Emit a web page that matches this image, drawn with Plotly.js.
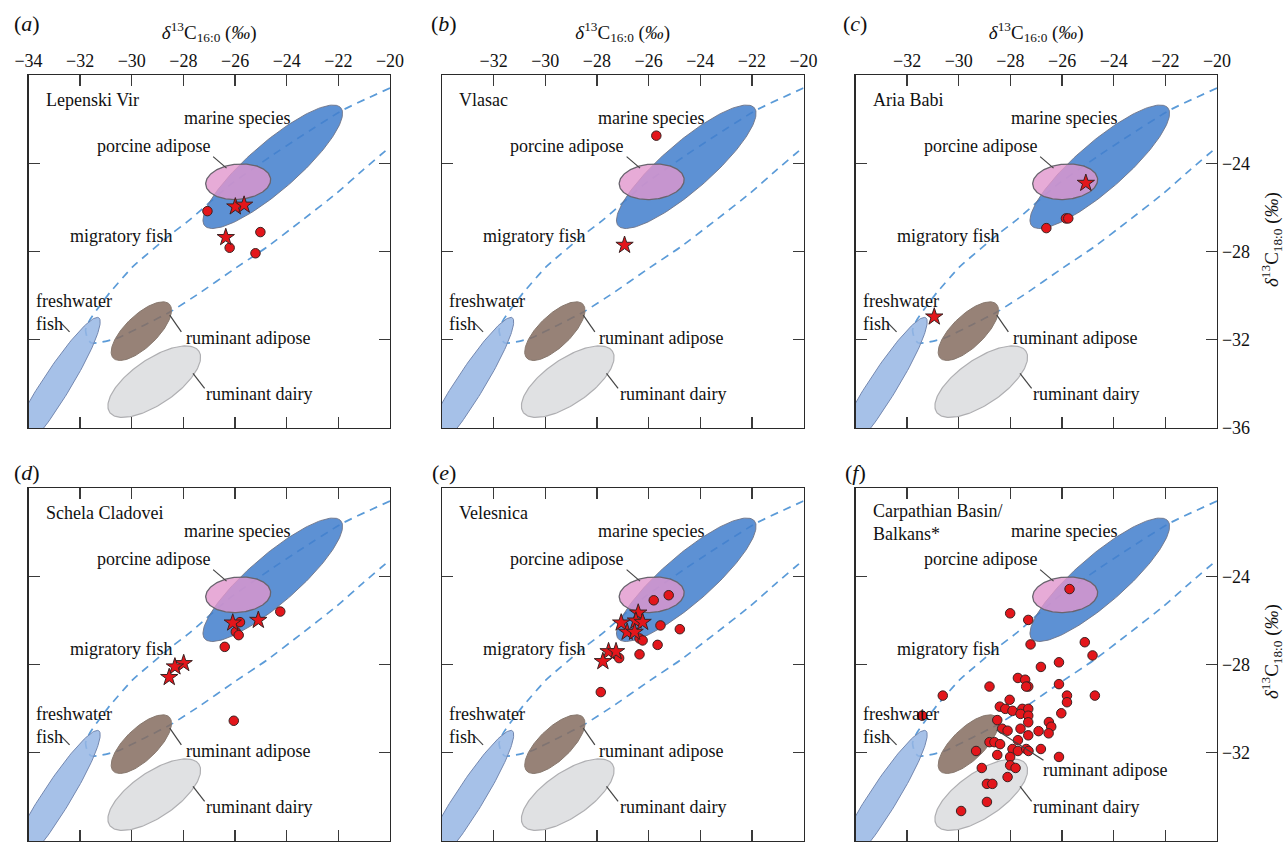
<!DOCTYPE html>
<html><head><meta charset="utf-8">
<script src="https://cdn.plot.ly/plotly-3.0.1.min.js"></script>
<style>html,body{margin:0;padding:0;background:#fff;} #chart{width:1286px;height:845px;}</style>
</head><body><div id="chart"></div>
<script>
// ---------------- data ----------------
const panelLetters = ['a','b','c','d','e','f'];
const siteNames = ['Lepenski Vir','Vlasac','Aria Babi','Schela Cladovei','Velesnica','Carpathian Basin/<br>Balkans*'];
const xTickVals = [-34,-32,-30,-28,-26,-24,-22,-20];
const yTickVals = [-36,-32,-28,-24];

// reference ellipses: [cx, cy, semi-major dx, dy, semi-minor dx, dy] in permil
const ellMarine  = [-24.54, -24.16, 2.634, 2.676, 0.609, -0.820];
const ellPorcine = [-25.88, -24.84, 1.256, 0.127, 0.058, -0.798];
const ellFresh   = [-33.11, -34.37, 1.830, 3.368, 0.458, -0.340];
const ellRumAd   = [-29.63, -31.61, 1.086, 1.224, 0.430, -0.521];
const ellDairy   = [-29.13, -33.90, 1.726, 1.387, 0.493, -0.839];

// dashed envelope line
const dashX = [-20.0,-21.83,-23.49,-24.66,-26.21,-27.76,-28.42,-29.97,-30.86,-31.36,-31.63,-31.79,-31.71,-31.56,-31.13,-30.55,-29.50,-28.46,-27.37,-26.09,-24.77,-23.49,-22.06,-21.05,-20.0];
const dashY = [-20.59,-21.59,-22.81,-23.72,-24.99,-26.57,-27.16,-28.70,-29.88,-30.65,-31.11,-31.56,-31.97,-32.15,-32.10,-31.92,-31.33,-30.70,-29.88,-28.84,-27.80,-26.66,-25.35,-24.31,-23.26];

// samples per site: circles and stars (d13C16:0, d13C18:0)
const aCircX = [-27.07,-26.21,-25.02,-25.21];
const aCircY = [-26.17,-27.83,-27.12,-28.08];
const aStarX = [-25.99,-25.65,-26.36];
const aStarY = [-25.97,-25.89,-27.36];

const bCircX = [-25.70];
const bCircY = [-22.75];
const bStarX = [-26.93];
const bStarY = [-27.71];

const cCircX = [-26.61,-25.85,-25.76];
const cCircY = [-26.94,-26.50,-26.50];
const cStarX = [-25.08,-30.95];
const cStarY = [-24.90,-30.96];

const dCircX = [-24.25,-25.81,-25.97,-25.86,-26.40,-26.05];
const dCircY = [-25.60,-26.08,-26.52,-26.67,-27.20,-30.55];
const dStarX = [-26.09,-25.10,-27.99,-28.33,-28.55];
const dStarY = [-26.11,-25.99,-27.95,-28.10,-28.58];

const eCircX = [-25.80,-25.22,-25.54,-24.79,-26.35,-26.23,-25.65,-27.14,-26.35,-27.85];
const eCircY = [-25.09,-24.86,-26.23,-26.40,-26.82,-26.91,-27.11,-27.71,-27.54,-29.25];
const eStarX = [-26.40,-27.06,-26.49,-26.23,-26.83,-26.54,-27.55,-27.26,-27.77];
const eStarY = [-25.66,-26.11,-26.02,-26.08,-26.53,-26.53,-27.41,-27.41,-27.86];

const fCircX = [-25.71,-28.01,-27.31,-27.22,-25.12,-24.82,-26.12,-26.82,-27.71,-27.43,-27.31,-27.39,-28.81,-26.12,-30.62,-25.81,-24.73,-25.81,-28.03,-28.41,-28.20,-27.92,-27.54,-27.31,-27.61,-27.31,-26.03,-31.42,-28.51,-27.31,-26.51,-26.42,-28.32,-28.11,-27.61,-26.91,-26.52,-27.31,-27.71,-28.81,-28.62,-28.40,-29.33,-27.92,-27.71,-27.39,-27.30,-26.82,-28.51,-28.01,-26.12,-29.11,-28.01,-27.80,-28.11,-28.91,-28.70,-28.91,-29.91];
const fCircY = [-24.58,-25.68,-25.98,-27.09,-26.99,-27.59,-27.90,-28.11,-28.61,-28.69,-29.00,-29.00,-29.00,-28.89,-29.41,-29.41,-29.41,-29.71,-29.60,-29.91,-30.01,-30.10,-30.01,-30.01,-30.24,-30.32,-30.21,-30.32,-30.52,-30.62,-30.61,-30.82,-30.91,-31.00,-30.91,-31.02,-31.12,-31.21,-31.43,-31.52,-31.52,-31.61,-31.92,-31.83,-31.92,-31.83,-31.92,-31.83,-32.10,-32.19,-32.19,-32.69,-32.57,-32.69,-33.10,-33.41,-33.41,-34.23,-34.64];
const fStarX = [];
const fStarY = [];

const circX = [aCircX,bCircX,cCircX,dCircX,eCircX,fCircX];
const circY = [aCircY,bCircY,cCircY,dCircY,eCircY,fCircY];
const starX = [aStarX,bStarX,cStarX,dStarX,eStarX,fStarX];
const starY = [aStarY,bStarY,cStarY,dStarY,eStarY,fStarY];

// ---------------- layout geometry / styles ----------------
const W = 1286, H = 845;
const colPx = [[28.5,390],[442,803.5],[855.5,1217]];
const rowPx = [[75,428],[488,841]];
const serif = "'Liberation Serif', serif";

function ellipsePts(p){
  const xs=[], ys=[];
  for(let i=0;i<=160;i++){
    const t = 2*Math.PI*i/160;
    xs.push(p[0]+p[2]*Math.cos(t)+p[4]*Math.sin(t));
    ys.push(p[1]+p[3]*Math.cos(t)+p[5]*Math.sin(t));
  }
  return [xs,ys];
}

const ellStyles = [
  [ellMarine,  'rgba(66,127,205,0.86)', 'rgba(110,115,135,0.9)', 1],
  [ellPorcine, 'rgba(225,150,205,0.80)', 'rgb(105,100,110)', 1.3],
  [ellFresh,   'rgba(150,182,228,0.85)', 'rgb(115,135,175)', 1],
  [ellRumAd,   'rgba(134,110,97,0.86)', 'rgb(135,120,110)', 1],
  [ellDairy,   'rgba(220,221,223,0.88)', 'rgb(175,175,178)', 1.2]
];

const traces = [];
const layout = {
  width: W, height: H,
  margin: {l:0, r:0, t:0, b:0},
  paper_bgcolor: '#fff', plot_bgcolor: '#fff',
  showlegend: false,
  font: {family: serif, color: '#111'},
  annotations: [], shapes: []
};

const leaders = [
  [-26.85,-23.70,-26.33,-24.22],
  [-32.73,-31.26,-32.41,-31.64],
  [-28.53,-30.88,-28.08,-31.64],
  [-27.63,-33.52,-27.18,-34.20]
];
const leadersF = [
  [-26.85,-23.70,-26.33,-24.22],
  [-32.73,-31.26,-32.41,-31.64],
  [-28.54,-30.97,-26.72,-32.34],
  [-27.63,-33.52,-27.18,-34.20]
];

const xTitle = '<i>δ</i><sup>13</sup>C<sub>16:0</sub> (<i>‰</i>)';
const yTitle = '<i>δ</i><sup>13</sup>C<sub>18:0</sub> (<i>‰</i>)';

for(let k=0;k<6;k++){
  const s = k===0 ? '' : String(k+1);
  const xa = 'x'+s, ya = 'y'+s;
  const col = k%3, row = Math.floor(k/3);
  const dx = [colPx[col][0]/W, colPx[col][1]/W];
  const dy = [1-rowPx[row][1]/H, 1-rowPx[row][0]/H];
  const topRow = row===0, rightCol = col===2;
  const xv = (k===0) ? xTickVals : xTickVals.slice(1);

  const xax = {
    domain: dx, range: [-34,-20], anchor: ya, side: 'top',
    tickvals: xv,
    ticktext: xv.map(v=>'\u2212'+Math.abs(v)),
    showticklabels: topRow,
    ticks: 'inside', ticklen: 11, tickwidth: 1.4, tickcolor: '#3a3a3a',
    showline: true, linecolor: '#2a2a2a', linewidth: 1.3, mirror: 'allticks',
    showgrid: false, zeroline: false, fixedrange: true,
    tickfont: {family: serif, size: 18, color: '#111'}
  };
  if(topRow) xax.title = {text: xTitle, font:{family: serif, size: 19, color:'#111'}, standoff: 6};
  layout['xaxis'+s] = xax;

  layout['yaxis'+s] = {
    domain: dy, range: [-36,-20], anchor: xa, side: 'right',
    tickvals: yTickVals,
    ticktext: yTickVals.map(v=>'\u2212'+Math.abs(v)),
    showticklabels: rightCol,
    ticks: 'inside', ticklen: 11, tickwidth: 1.4, tickcolor: '#3a3a3a',
    showline: true, linecolor: '#2a2a2a', linewidth: 1.3, mirror: 'allticks',
    showgrid: false, zeroline: false, fixedrange: true,
    tickfont: {family: serif, size: 18, color: '#111'}
  };

  // dashed envelope (drawn below the ellipses)
  traces.push({type:'scatter', mode:'lines', x: dashX, y: dashY, xaxis: xa, yaxis: ya,
    line:{color:'#5b9bd8', width:1.7, dash:'8px,6px', shape:'spline', smoothing:0.5}, hoverinfo:'skip'});

  ellStyles.forEach(([p, fc, lc, lw])=>{
    const [ex, ey] = ellipsePts(p);
    traces.push({type:'scatter', mode:'lines', x: ex, y: ey, xaxis: xa, yaxis: ya,
      fill:'toself', fillcolor: fc, line:{color: lc, width: lw}, hoverinfo:'skip'});
  });

  traces.push({type:'scatter', mode:'markers', x: circX[k], y: circY[k], xaxis: xa, yaxis: ya,
    marker:{symbol:'circle', size:9.5, color:'#e3161b', line:{color:'#3b2222', width:1}}, cliponaxis:false});
  if(starX[k].length){
    traces.push({type:'scatter', mode:'markers', x: starX[k], y: starY[k], xaxis: xa, yaxis: ya,
      marker:{symbol:'star', size:13, color:'#e3161b', line:{color:'#3b2222', width:1}}, cliponaxis:false});
  }

  const ann = (text, x, y, extra) => Object.assign({text, x, y, xref: xa, yref: ya, showarrow:false,
    xanchor:'left', yanchor:'middle', font:{family: serif, size:18, color:'#111'}}, extra||{});
  const A = layout.annotations;
  if(k===5){
    A.push(ann(siteNames[k], -33.40, -21.55, {align:'left'}));
  } else {
    A.push(ann(siteNames[k], -33.40, -21.13));
  }
  A.push(ann('marine species', -28.04, -21.93));
  A.push(ann('porcine adipose', -31.44, -23.20));
  A.push(ann('migratory fish', -32.48, -27.28));
  A.push(ann('freshwater<br>fish', -33.80, -30.76, {align:'left'}));
  if(k===5){
    A.push(ann('ruminant adipose', -26.81, -32.77));
  } else {
    A.push(ann('ruminant adipose', -27.98, -31.94));
  }
  A.push(ann('ruminant dairy', -27.20, -34.45));

  (k===5 ? leadersF : leaders).forEach(L=>{
    layout.shapes.push({type:'line', xref: xa, yref: ya, x0:L[0], y0:L[1], x1:L[2], y1:L[3],
      line:{color:'#444', width:1.2}});
  });

  // panel letter
  const lx = [27, 444, 855][col] / W;
  const ly = 1 - [23, 472][row] / H;
  A.push({text: '(<i>'+panelLetters[k]+'</i>)', x: lx, y: ly, xref:'paper', yref:'paper', showarrow:false,
    xanchor:'center', yanchor:'middle', font:{family: serif, size: 22, color:'#111'}});

  // right-hand y-axis title
  if(rightCol){
    A.push({text: yTitle, textangle: -90, x: 1271/W, y: 1 - [240, 652][row]/H, xref:'paper', yref:'paper',
      showarrow:false, xanchor:'center', yanchor:'middle', font:{family: serif, size: 19, color:'#111'}});
  }
}

Plotly.newPlot('chart', traces, layout, {staticPlot:true, displayModeBar:false});
</script>
</body></html>
